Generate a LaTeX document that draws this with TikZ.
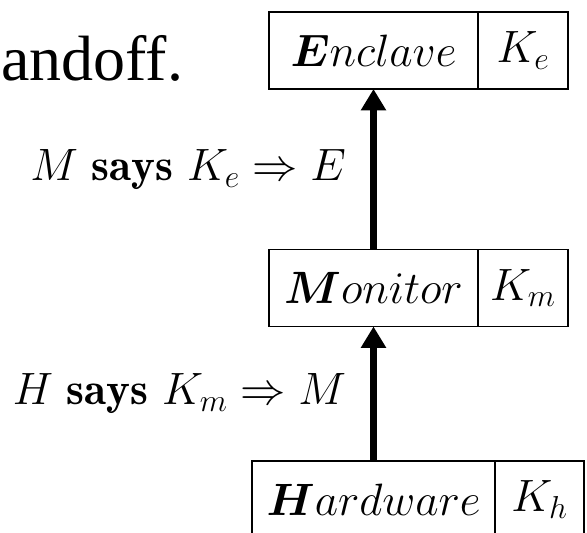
\RequirePackage{fix-cm}
\documentclass[tikz,border=0pt]{standalone}
\usepackage{fontspec}
\usepackage{amsmath}
\usepackage{bm}
\usepackage{tikz}
\usetikzlibrary{positioning,arrows.meta}
\newfontfamily\slidefont{Liberation Serif}

\begin{document}
\begin{tikzpicture}[
  x=0.75pt, y=-0.75pt,
  every node/.style={font=\fontsize{34}{40}\selectfont},
  part/.style={rectangle, draw=black, line width=1pt, outer sep=0pt, inner sep=0pt, minimum height=57.75pt},
  namebox/.style={part, minimum width=156.75pt},
  keybox/.style ={part, minimum width=67.5pt},
  lift/.style={-{Triangle[width=18pt,length=16pt]}, line width=5.25pt},
  says/.style={inner sep=0pt, left=18pt},
]

% ── Row y-coordinates (px, downwards) ──
\def\yEnc{50.5}
\def\yMon{288}
\def\yHw{499.5}

% ── Frame of the slide crop ──
\useasboundingbox (0,0) rectangle (587,533);
\clip (0,0) rectangle (587,533);

% ── Slide text, cut at the left edge ──
\node[anchor=base west, inner sep=0pt, font=\slidefont\fontsize{48}{52}\selectfont] (handoff) at (1,80) {andoff.};

% ── Principals with their keys ──
\node[namebox]                          (enc) at (373.5,\yEnc) {$\bm{E}nclave$};
\node[keybox, right=0pt of enc]         (ke)                   {$K_e$};
\node[namebox]                          (mon) at (373.5,\yMon) {$\bm{M}onitor$};
\node[keybox, right=0pt of mon]         (km)                   {$K_m$};
\node[namebox, minimum width=182.25pt]  (hw)  at (373.5,\yHw)  {$\bm{H}ardware$};
\node[keybox, minimum width=66.75pt, right=0pt of hw] (kh)     {$K_h$};

% ── Delegation arrows ──
\draw[lift] (mon.north) -- node[says] (msays) {$M\ \mathbf{says}\ K_e \Rightarrow E$} (enc.south);
\draw[lift] (hw.north)  -- node[says] (hsays) {$H\ \mathbf{says}\ K_m \Rightarrow M$} (mon.south);

\end{tikzpicture}
\end{document}
